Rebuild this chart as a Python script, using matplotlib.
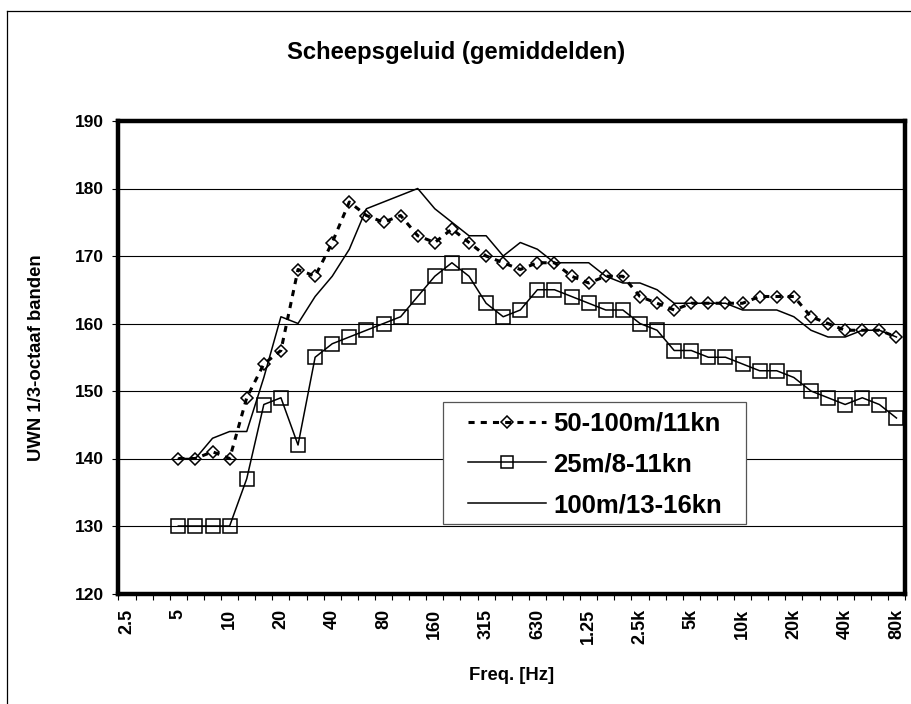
import numpy as np
import matplotlib
matplotlib.use("Agg")
import matplotlib.pyplot as plt
from matplotlib.lines import Line2D
from matplotlib.patches import Rectangle

plt.rcParams['font.family'] = ['Liberation Sans', 'DejaVu Sans']
plt.rcParams['font.weight'] = 'bold'

categories = ['2.5', '3.15', '4', '5', '6.3', '8', '10', '12.5', '16', '20', '25', '31.5',
              '40', '50', '63', '80', '100', '125', '160', '200', '250', '315', '400', '500',
              '630', '800', '1k', '1.25k', '1.6k', '2k', '2.5k', '3.15k', '4k', '5k', '6.3k',
              '8k', '10k', '12.5k', '16k', '20k', '25k', '31.5k', '40k', '50k', '63k', '80k']
tick_labels = ['2.5', '5', '10', '20', '40', '80', '160', '315', '630', '1.25', '2.5k',
               '5k', '10k', '20k', '40k', '80k']

nan = np.nan
s_50_100m = [nan, nan, nan, 140, 140, 141, 140, 149, 154, 156, 168, 167, 172, 178, 176, 175,
             176, 173, 172, 174, 172, 170, 169, 168, 169, 169, 167, 166, 167, 167, 164, 163,
             162, 163, 163, 163, 163, 164, 164, 164, 161, 160, 159, 159, 159, 158]
s_25m = [nan, nan, nan, 130, 130, 130, 130, 137, 148, 149, 142, 155, 157, 158, 159, 160,
         161, 164, 167, 169, 167, 163, 161, 162, 165, 165, 164, 163, 162, 162, 160, 159,
         156, 156, 155, 155, 154, 153, 153, 152, 150, 149, 148, 149, 148, 146]
s_100m = [nan, nan, nan, 140, 140, 143, 144, 144, 152, 161, 160, 164, 167, 171, 177, 178,
          179, 180, 177, 175, 173, 173, 170, 172, 171, 169, 169, 169, 167, 166, 166, 165,
          163, 163, 163, 163, 162, 162, 162, 161, 159, 158, 158, 159, 159, 158]
labels = ['50-100m/11kn', '25m/8-11kn', '100m/13-16kn']

W, H = 912, 704
AX_L, AX_R, AX_T, AX_B = 118.5, 905.0, 121.0, 593.5
fig = plt.figure(figsize=(W / 100, H / 100), dpi=100)
ax = fig.add_axes([AX_L / W, 1 - AX_B / H, (AX_R - AX_L) / W, (AX_B - AX_T) / H])

x = np.arange(len(categories))
l1, = ax.plot(x, s_50_100m, color='black', lw=2.2, linestyle=(0, (2, 2)),
              marker='D', markersize=6.3, markerfacecolor='none', markeredgecolor='black',
              markeredgewidth=1.1, zorder=3)
l2, = ax.plot(x, s_25m, color='black', lw=1.1, linestyle='-',
              marker='s', markersize=9.5, markerfacecolor='none', markeredgecolor='black',
              markeredgewidth=1.1, zorder=3)
l3, = ax.plot(x, s_100m, color='black', lw=1.1, linestyle='-', zorder=3)

ax.set_xlim(-0.5, len(categories) - 0.5)
ax.set_ylim(120, 190)
ax.set_yticks(np.arange(120, 191, 10))
ax.yaxis.grid(True, color='black', lw=0.8)
ax.set_axisbelow(True)

ax.set_xticks(np.arange(0, len(categories), 3))
ax.set_xticklabels(tick_labels, rotation=90, fontsize=13, fontweight='bold')
ax.set_xticks(np.arange(-0.5, len(categories), 1), minor=True)
ax.tick_params(axis='x', which='major', length=0, pad=11)
ax.tick_params(axis='x', which='minor', length=4.5, width=0.8, direction='out')
ax.tick_params(axis='y', length=4.5, width=0.8, direction='out', labelsize=12.5, pad=6)
for t in ax.get_yticklabels():
    t.set_fontweight('bold')

for sp in ax.spines.values():
    sp.set_linewidth(3.2)
    sp.set_color('black')

fig.text(0.5, 1 - 52 / H, 'Scheepsgeluid (gemiddelden)', ha='center', va='center',
         fontsize=17.2, fontweight='bold')
fig.text(37 / W, 1 - 358 / H, 'UWN 1/3-octaaf banden', rotation=90, ha='center',
         va='center', fontsize=13.3, fontweight='bold')
fig.text(512 / W, 1 - 676 / H, 'Freq. [Hz]', ha='center', va='center',
         fontsize=13.3, fontweight='bold')

# legend frame (drawn separately so the padding can match)
box_l, box_r, box_t, box_b = 443, 746, 402, 524
frame = Rectangle((box_l / W, 1 - box_b / H), (box_r - box_l) / W, (box_b - box_t) / H,
                  transform=fig.transFigure, facecolor='white', edgecolor='#555555',
                  lw=0.9, zorder=4, clip_on=False)
ax.add_patch(frame)

leg = ax.legend([l1, l2, l3], labels, loc='upper left',
                bbox_to_anchor=((468 - AX_L) / (AX_R - AX_L), (AX_B - 411.5) / (AX_B - AX_T)),
                borderaxespad=0, borderpad=0, frameon=False,
                prop={'weight': 'bold', 'size': 18.5},
                handlelength=3.04, handletextpad=0.27, labelspacing=0.66,
                markerscale=0.95)
leg.set_zorder(5)

# outer chart border (cropped)
fig.add_artist(Line2D([7 / W, 1], [1 - 11 / H, 1 - 11 / H], transform=fig.transFigure,
                      color='black', lw=0.9))
fig.add_artist(Line2D([7 / W, 7 / W], [0, 1 - 11 / H], transform=fig.transFigure,
                      color='black', lw=0.9))

fig.savefig('out.png', dpi=100)
